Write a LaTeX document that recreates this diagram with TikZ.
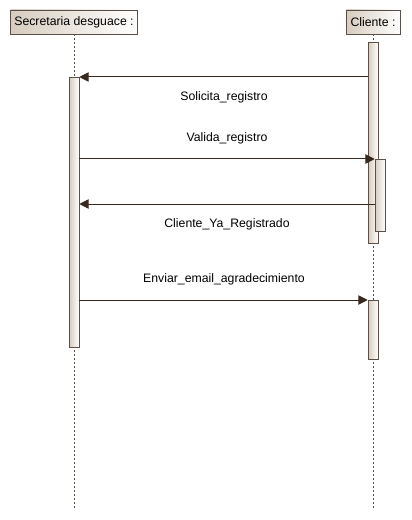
\documentclass[tikz,border=0pt]{standalone}
\usepackage{fontspec}
\setmainfont{Liberation Sans}
\usetikzlibrary{arrows.meta}
\definecolor{colLine}{rgb}{.36,.31,.27}
\definecolor{colArr}{rgb}{.22,.16,.12}
\definecolor{colBox}{rgb}{.84,.80,.75}
\tikzstyle{actor}=[draw=colLine, left color=colBox, right color=white, inner sep=0pt, minimum height=18pt, font=\fontsize{9.2pt}{11pt}\selectfont]
\tikzstyle{actbar}=[draw=colLine, left color=colBox, right color=white, inner sep=0pt, minimum width=7.5pt, anchor=north]
\tikzstyle{lifeline}=[colLine, line width=0.5pt, dash pattern=on 1.5pt off 1.5pt]
\tikzstyle{msg}=[colArr, line width=0.75pt, -{Triangle[length=7pt,width=7pt]}]
\tikzstyle{msglabel}=[font=\fontsize{9.2pt}{11pt}\selectfont, inner sep=0pt]

\begin{document}
\begin{tikzpicture}[x=0.75pt,y=-0.75pt]
		\useasboundingbox (0,0) rectangle (411,520);
		\node[actor, minimum width=95.25pt] (sec) at (74,22) {Secretaria desguace :};
		\node[actor, minimum width=40.5pt] (cli) at (373,22) {Cliente :};
		% lifelines
		\coordinate (secend) at (74,510);
		\coordinate (cliend) at (373,510);
		\draw[lifeline] (sec.south) -- (secend);
		\draw[lifeline] (cli.south) -- (cliend);
		% activation bars
		\node[actbar, minimum height=202.5pt] (a) at (74,77) {};
		\node[actbar, minimum height=150.75pt] (b1) at (373,42) {};
		\node[actbar, minimum height=54pt] (b2) at (380,159) {};
		\node[actbar, minimum height=44.25pt] (b3) at (373,300) {};
		\coordinate (r3) at (0,204);
		% messages
		\draw[msg] (b1.west |- a.north) -- (a.north east);
		\draw[msg] (a.east |- b2.north) -- (b2.north west);
		\draw[msg] (b2.west |- r3) -- (a.east |- r3);
		\draw[msg] (a.east |- b3.north) -- (b3.north west);
		\node[msglabel] (l1) at (224,97) {Solicita\_registro};
		\node[msglabel] (l2) at (227,138) {Valida\_registro};
		\node[msglabel] (l3) at (227,224) {Cliente\_Ya\_Registrado};
		\node[msglabel] (l4) at (224,279) {Enviar\_email\_agradecimiento};
	\end{tikzpicture}
\end{document}
